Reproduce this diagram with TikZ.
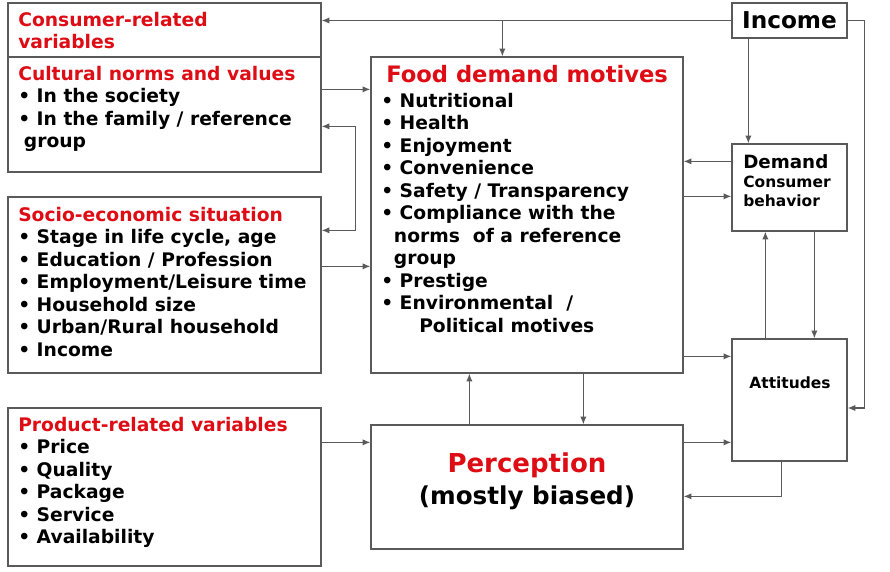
\documentclass[tikz,border=0pt]{standalone}
\usepackage{fontspec}
\setmainfont{DejaVu Sans}
\usetikzlibrary{arrows.meta,fit,calc}
\definecolor{titlered}{RGB}{222,12,20}
\definecolor{linegray}{RGB}{90,90,90}

\begin{document}
\begin{tikzpicture}[x=0.025cm, y=-0.025cm]
	\tikzset{box/.style = {draw=linegray, line width=0.9pt, inner sep=0pt},
		txt/.style = {anchor=north west, inner sep=0pt, align=left,
			font=\bfseries\fontsize{13.3}{16}\selectfont},
		tip/.tip = {Latex[length=5.5pt, width=4.5pt]},
		arr/.style = {draw=linegray, line width=0.9pt, -tip},
		arrboth/.style = {draw=linegray, line width=0.9pt, tip-tip}}
	\useasboundingbox (0,0) rectangle (890,572);
	
	% boxes
	\node[box, fit={(8,3) (321,57)}] (consumer) {};
	\node[box, fit={(8,57) (321,172)}] (cultural) {};
	\node[box, fit={(8,197) (321,373)}] (socio) {};
	\node[box, fit={(8,408) (321,566)}] (product) {};
	\node[box, fit={(371,57) (683,373)}] (food) {};
	\node[box, fit={(371,425) (683,549)}] (percep) {};
	\node[box, fit={(732,3) (847,38)}] (income) {};
	\node[box, fit={(732,144) (847,231)}] (demand) {};
	\node[box, fit={(732,339) (847,461)}] (attitudes) {};
	
	% texts
	\node[txt] (consumer_t) at (18,12)
	{\textcolor{titlered}{Consumer-related}\\ \textcolor{titlered}{variables}};
	\node[txt] (cultural_t) at (18,66)
	{\textcolor{titlered}{Cultural norms and values}\\
		• In the society\\
		• In the family / reference\\
		\hspace*{4pt}group};
	\node[txt] (socio_t) at (18,207)
	{\textcolor{titlered}{Socio-economic situation}\\
		• Stage in life cycle, age\\
		• Education / Profession\\
		• Employment/Leisure time\\
		• Household size\\
		• Urban/Rural household\\
		• Income};
	\node[txt] (product_t) at (18,417)
	{\textcolor{titlered}{Product-related variables}\\
		• Price\\
		• Quality\\
		• Package\\
		• Service\\
		• Availability};
	\node[txt, font=\bfseries\fontsize{16.1}{18}\selectfont, text=titlered]
	(food_title) at (386,65) {Food demand motives};
	\node[txt] (food_t) at (381,93)
	{• Nutritional\\
		• Health\\
		• Enjoyment\\
		• Convenience\\
		• Safety / Transparency\\
		• Compliance with the\\
		\hspace*{9pt}norms\ \ of a reference\\
		\hspace*{9pt}group\\
		• Prestige\\
		• Environmental\ \ /\\
		\hspace*{27pt}Political motives};
	\node[align=center, inner sep=0pt, font=\bfseries\fontsize{17.5}{23}\selectfont]
	(percep_t) at (527,481)
	{\textcolor{titlered}{\fontsize{18.5}{23}\selectfont Perception}\\ (mostly biased)};
	\node[inner sep=0pt, font=\bfseries\fontsize{16.5}{18}\selectfont]
	(income_t) at (income.center) {Income};
	\node[txt, font=\bfseries\fontsize{11}{13.5}\selectfont] (demand_t) at (743,154)
	{{\fontsize{13}{14}\selectfont Demand}\\ Consumer\\ behavior};
	\node[inner sep=0pt, font=\bfseries\fontsize{11}{13}\selectfont]
	(attitudes_t) at (790,383) {Attitudes};
	
	% connectors
	\coordinate (brtop) at ($(cultural.north east)+(34,70)$);
	\coordinate (brbot) at ($(socio.north east)+(34,34)$);
	\coordinate (topjoin) at ($(food.north west)+(132,0)$);
	\coordinate (dem_in) at ($(demand.north west)+(0,18)$);
	\coordinate (dem_out) at ($(demand.north west)+(0,53)$);
	\coordinate (cult_out) at ($(cultural.north east)+(0,33)$);
	\coordinate (socio_out) at ($(socio.north east)+(0,70)$);
	\coordinate (att_in1) at ($(attitudes.north west)+(0,18)$);
	\coordinate (att_in2) at ($(attitudes.north west)+(0,104)$);
	\coordinate (perc_in) at ($(percep.north west)+(0,18)$);
	
	\draw[arr] (income.west) -- (income.west -| consumer.east);
	\draw[arr] (topjoin |- income.west) -- (topjoin);
	\draw[arr] ($(income.south west)+(17,0)$) -- ($(demand.north west)+(17,0)$);
	\draw[arr] (income.east) -- ++(17,0) |- ($(attitudes.east)+(0,8)$);
	\draw[arr] (dem_in) -- (dem_in -| food.east);
	\draw[arr] (dem_out -| food.east) -- (dem_out);
	\draw[arr] (cult_out) -- (cult_out -| food.west);
	\draw[arr] (socio_out) -- (socio_out -| food.west);
	\draw[arrboth] (brtop -| cultural.east) -- (brtop) -- (brbot) -- (brbot -| socio.east);
	\draw[arr] (att_in1 -| food.east) -- (att_in1);
	\draw[arr] ($(percep.north west)+(99,0)$) -- ($(food.south west)+(99,0)$);
	\draw[arr] ($(food.south west)+(213,0)$) -- ($(percep.north west)+(213,0)$);
	\draw[arr] (perc_in -| product.east) -- (perc_in);
	\draw[arr] (att_in2 -| percep.east) -- (att_in2);
	\draw[arr] ($(attitudes.south west)+(50,0)$) |- ($(percep.north east)+(0,72)$);
	\draw[arr] ($(attitudes.north west)+(34,0)$) -- ($(demand.south west)+(34,0)$);
	\draw[arr] ($(demand.south west)+(83,0)$) -- ($(attitudes.north west)+(83,0)$);
\end{tikzpicture}
\end{document}
